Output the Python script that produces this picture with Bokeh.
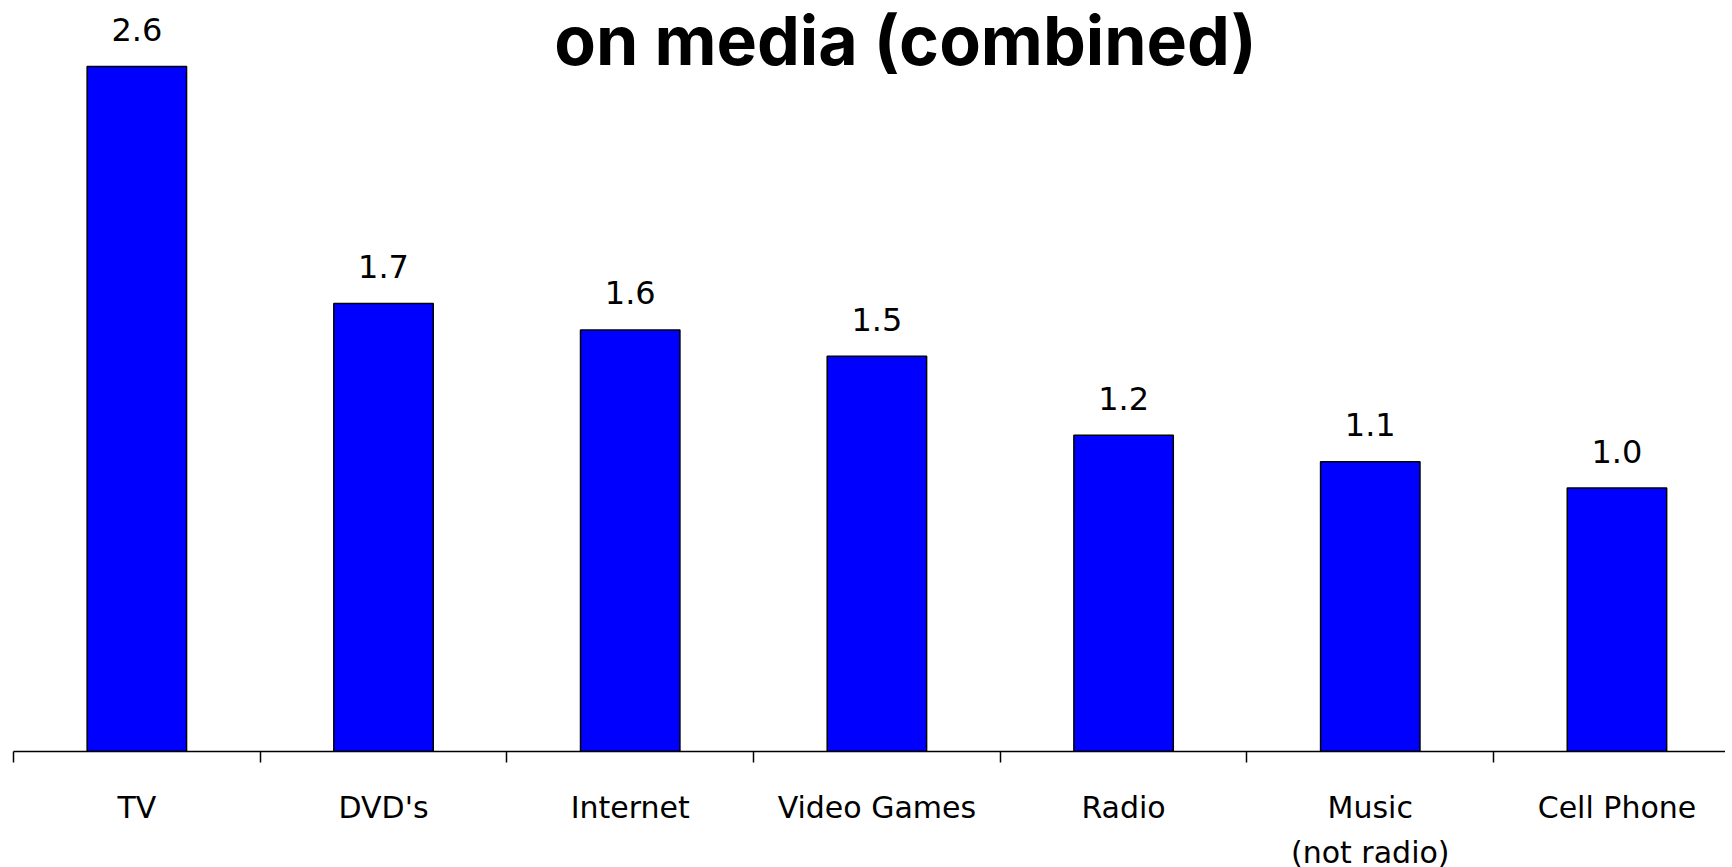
from bokeh.plotting import figure
from bokeh.models import ColumnDataSource, Range1d, FixedTicker, Label
from bokeh.core.properties import value
from bokeh.embed import file_html
from bokeh.resources import INLINE

categories = ["TV", "DVD's", "Internet", "Video Games", "Radio", "Music\n(not radio)", "Cell Phone"]
hours = [2.6, 1.7, 1.6, 1.5, 1.2, 1.1, 1.0]
value_labels = ["2.6", "1.7", "1.6", "1.5", "1.2", "1.1", "1.0"]
title_text = "on media (combined)"

xs = [i + 0.5 for i in range(len(categories))]
src = ColumnDataSource(dict(x=xs, top=hours, lab=value_labels))

p = figure(frame_width=1712, frame_height=743, output_backend="svg", toolbar_location=None,
           x_range=Range1d(0, 6.94), y_range=Range1d(0, 2.82),
           min_border_left=13, min_border_right=0, min_border_top=8, min_border_bottom=100)
p.outline_line_color = None
p.grid.visible = False
p.yaxis.visible = False

p.vbar(x="x", top="top", width=0.403, bottom=0, source=src,
       fill_color="#0000FF", line_color="black", line_width=1.5)
p.text(x="x", y="top", text="lab", source=src, text_align="center",
       text_baseline="alphabetic", y_offset=-37,
       text_font=value("DejaVu Sans"), text_font_size="32px", text_color="black")

ax = p.xaxis[0]
ax.ticker = FixedTicker(ticks=xs, minor_ticks=list(range(len(categories) + 1)))
ax.major_label_overrides = {x: c for x, c in zip(xs, categories)}
ax.major_tick_out = 0
ax.major_tick_in = 0
ax.minor_tick_out = 11
ax.minor_tick_in = 0
ax.minor_tick_line_color = "black"
ax.minor_tick_line_width = 1.5
ax.axis_line_color = "black"
ax.axis_line_width = 1.5
ax.major_label_standoff = 27
ax.major_label_text_font = "DejaVu Sans"
ax.major_label_text_font_size = "30px"
ax.major_label_text_color = "black"
ax.major_label_text_line_height = 1.3

p.add_layout(Label(x=3.616, y=2.70, text=title_text,
                   text_align="center", text_baseline="alphabetic",
                   text_font="Inter", text_font_style="bold", text_font_size="68px",
                   text_color="black"))

open("out.html", "w").write(file_html(p, INLINE))
